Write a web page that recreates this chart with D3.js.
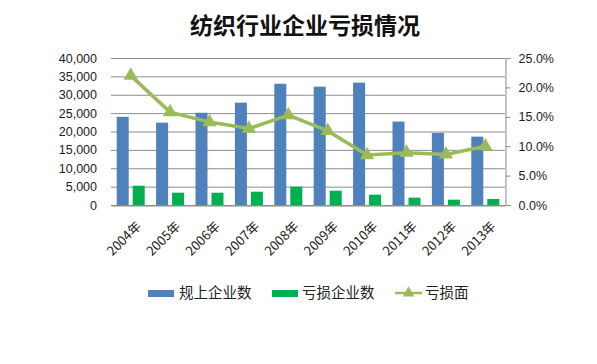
<!DOCTYPE html>
<html><head><meta charset="utf-8">
<script src="https://cdn.jsdelivr.net/npm/d3@7"></script>
<style>body{margin:0;background:#fff;}svg{display:block;}</style>
</head><body>
<script>
const years = ["2004年","2005年","2006年","2007年","2008年","2009年","2010年","2011年","2012年","2013年"];
const totalEnterprises = [24000,22400,25100,27850,33000,32200,33300,22700,19600,18600];
const lossEnterprises = [5250,3350,3350,3620,5000,3900,2800,2000,1450,1630];
const lossRate = [0.220,0.158,0.141,0.130,0.153,0.126,0.085,0.089,0.086,0.100];
const leftTicks = [0,5000,10000,15000,20000,25000,30000,35000,40000];
const rightTicks = [0,0.05,0.10,0.15,0.20,0.25];
const seriesNames = ["规上企业数","亏损企业数","亏损面"];
const colors = ["#4f81bd","#00b050","#9bbb59"];

const W=597,H=364;
const svg=d3.select("body").append("svg").attr("width",W).attr("height",H);
const m={l:111,r:505,t:58,b:205};
const font='"Liberation Sans", Arial, sans-serif';
const cjk='"Noto Sans CJK SC", sans-serif';

svg.append("text").attr("x",305).attr("y",34).attr("text-anchor","middle")
  .attr("font-family",cjk).attr("font-weight","bold").attr("font-size",23).attr("fill","#111")
  .text("纺织行业企业亏损情况");

const x=d3.scaleBand().domain(years).range([m.l,m.r]);
const yL=d3.scaleLinear().domain([0,40000]).range([m.b,m.t]);
const yR=d3.scaleLinear().domain([0,0.25]).range([m.b,m.t]);

// gridlines
svg.append("g").selectAll("line").data(leftTicks).join("line")
  .attr("x1",m.l).attr("x2",m.r).attr("y1",d=>yL(d)+0.5).attr("y2",d=>yL(d)+0.5)
  .attr("stroke","#8c8c8c").attr("stroke-width",1);

// left axis
const gL=svg.append("g").attr("transform",`translate(${m.l},0)`)
  .call(d3.axisLeft(yL).tickValues(leftTicks).tickFormat(d3.format(",")).tickSize(0).tickPadding(14));
gL.select(".domain").remove();
gL.selectAll("text").attr("font-family",font).attr("font-size",12.5).attr("fill","#222");

// right axis
const gR=svg.append("g").attr("transform",`translate(${m.r+0.5},0)`)
  .call(d3.axisRight(yR).tickValues(rightTicks).tickFormat(d3.format(".1%")).tickSize(5).tickPadding(8));
gR.select(".domain").attr("stroke","#8c8c8c");
gR.selectAll("line").attr("stroke","#8c8c8c");
gR.selectAll("text").attr("font-family",font).attr("font-size",12.5).attr("fill","#222");

// bars
const bw=12,gap=4;
svg.append("g").selectAll("rect").data(totalEnterprises).join("rect")
  .attr("x",(d,i)=>x(years[i])+x.bandwidth()/2-bw-gap/2).attr("width",bw)
  .attr("y",d=>yL(d)).attr("height",d=>yL(0)-yL(d)).attr("fill",colors[0]);
svg.append("g").selectAll("rect").data(lossEnterprises).join("rect")
  .attr("x",(d,i)=>x(years[i])+x.bandwidth()/2+gap/2).attr("width",bw)
  .attr("y",d=>yL(d)).attr("height",d=>yL(0)-yL(d)).attr("fill",colors[1]);

// x axis
const gX=svg.append("g").attr("transform",`translate(0,${m.b+0.5})`)
  .call(d3.axisBottom(x).tickSize(0).tickPadding(6));
gX.select(".domain").attr("stroke","#8c8c8c");
gX.selectAll("text").attr("font-family",cjk).attr("font-size",13).attr("fill","#222")
  .attr("text-anchor","end").attr("dy","0.35em")
  .attr("transform","translate(4,14) rotate(-45)");

// line
const line=d3.line().x((d,i)=>x(years[i])+x.bandwidth()/2).y(d=>yR(d));
svg.append("path").datum(lossRate).attr("d",line).attr("fill","none")
  .attr("stroke",colors[2]).attr("stroke-width",3.5);
const tri=d3.symbol().type(d3.symbolTriangle).size(90);
svg.append("g").selectAll("path").data(lossRate).join("path")
  .attr("d",tri).attr("fill",colors[2])
  .attr("transform",(d,i)=>`translate(${x(years[i])+x.bandwidth()/2},${yR(d)})`);

// legend
const lg=svg.append("g");
const ly=293;
lg.append("rect").attr("x",148).attr("y",ly-3).attr("width",26).attr("height",7).attr("fill",colors[0]);
lg.append("text").attr("x",179).attr("y",ly).attr("dy","0.35em").text(seriesNames[0]);
lg.append("rect").attr("x",272).attr("y",ly-3).attr("width",26).attr("height",7).attr("fill",colors[1]);
lg.append("text").attr("x",302).attr("y",ly).attr("dy","0.35em").text(seriesNames[1]);
lg.append("line").attr("x1",395).attr("x2",422).attr("y1",ly).attr("y2",ly).attr("stroke",colors[2]).attr("stroke-width",2.5);
lg.append("path").attr("d",d3.symbol().type(d3.symbolTriangle).size(60)).attr("fill",colors[2]).attr("transform",`translate(408.5,${ly})`);
lg.append("text").attr("x",425).attr("y",ly).attr("dy","0.35em").text(seriesNames[2]);
lg.selectAll("text").attr("font-family",cjk).attr("font-size",14.5).attr("fill","#222");
</script>
</body></html>
